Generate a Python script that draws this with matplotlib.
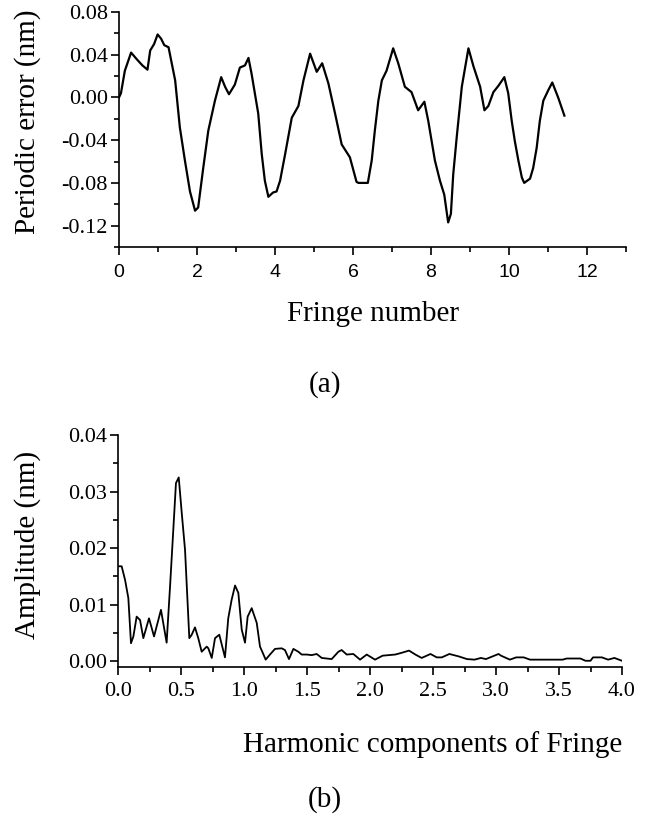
import matplotlib
matplotlib.use("Agg")
import matplotlib.pyplot as plt
from matplotlib.ticker import MultipleLocator, FormatStrFormatter

# ---- data: (a) periodic error vs fringe number ----
fringe = [0.00, 0.05, 0.15, 0.31, 0.45, 0.60, 0.73, 0.80, 0.90, 0.99, 1.08, 1.16, 1.27,
          1.44, 1.56, 1.69, 1.82, 1.95, 2.03, 2.16, 2.29, 2.46, 2.62, 2.72, 2.82, 2.97,
          3.10, 3.23, 3.32, 3.40, 3.57, 3.66, 3.74, 3.83, 3.95, 4.04, 4.13, 4.26, 4.43,
          4.60, 4.73, 4.90, 5.07, 5.21, 5.37, 5.54, 5.71, 5.92, 6.09, 6.14, 6.38, 6.48,
          6.56, 6.65, 6.74, 6.86, 7.03, 7.16, 7.33, 7.50, 7.67, 7.83, 7.93, 8.10, 8.23,
          8.34, 8.44, 8.51, 8.57, 8.66, 8.79, 8.96, 9.09, 9.26, 9.37, 9.47, 9.60, 9.73,
          9.88, 9.98, 10.07, 10.15, 10.24, 10.33, 10.39, 10.54, 10.62, 10.71, 10.79,
          10.88, 11.01, 11.11, 11.26, 11.42]
perr = [0.000, 0.004, 0.025, 0.042, 0.036, 0.030, 0.026, 0.044, 0.050, 0.059, 0.055, 0.049, 0.047,
        0.016, -0.028, -0.059, -0.088, -0.106, -0.103, -0.066, -0.031, -0.003, 0.019, 0.010, 0.003, 0.012,
        0.028, 0.030, 0.037, 0.022, -0.015, -0.053, -0.078, -0.093, -0.089, -0.088, -0.078, -0.053, -0.019,
        -0.008, 0.016, 0.041, 0.024, 0.032, 0.013, -0.015, -0.044, -0.056, -0.079, -0.080, -0.080, -0.059,
        -0.031, -0.003, 0.016, 0.025, 0.046, 0.032, 0.010, 0.005, -0.012, -0.004, -0.022, -0.059, -0.078,
        -0.091, -0.117, -0.109, -0.072, -0.037, 0.010, 0.046, 0.029, 0.010, -0.012, -0.008, 0.005, 0.011,
        0.019, 0.004, -0.022, -0.041, -0.059, -0.075, -0.080, -0.076, -0.066, -0.047, -0.022,
        -0.003, 0.007, 0.014, 0.000, -0.017]

# ---- data: (b) amplitude spectrum ----
harm = [0.000, 0.029, 0.056, 0.082, 0.103, 0.122, 0.148, 0.175, 0.201, 0.246, 0.286, 0.341, 0.386,
        0.413, 0.439, 0.460, 0.482, 0.506, 0.532, 0.566, 0.585, 0.611, 0.637, 0.664, 0.704, 0.717,
        0.744, 0.770, 0.804, 0.849, 0.875, 0.902, 0.929, 0.955, 0.982, 1.008, 1.029, 1.061, 1.101,
        1.127, 1.145, 1.172, 1.206, 1.246, 1.299, 1.325, 1.357, 1.392, 1.431, 1.458, 1.498, 1.537,
        1.577, 1.617, 1.696, 1.749, 1.775, 1.815, 1.868, 1.921, 1.974, 2.04, 2.10, 2.20, 2.25,
        2.31, 2.36, 2.41, 2.48, 2.53, 2.57, 2.63, 2.70, 2.77, 2.83, 2.88, 2.92, 3.02, 3.04, 3.11,
        3.16, 3.22, 3.27, 3.53, 3.56, 3.67, 3.71, 3.75, 3.77, 3.84, 3.89, 3.94, 4.00]
amp = [0.0168, 0.0168, 0.0144, 0.0112, 0.0032, 0.0044, 0.0079, 0.0073, 0.0041, 0.0076, 0.0044, 0.0091, 0.0033,
       0.0132, 0.0233, 0.0315, 0.0325, 0.0262, 0.0197, 0.0041, 0.0047, 0.0060, 0.0041, 0.0017, 0.0026, 0.0023,
       0.0006, 0.0041, 0.0047, 0.0007, 0.0076, 0.0109, 0.0134, 0.0121, 0.0056, 0.0033, 0.0079, 0.0094, 0.0068,
       0.0026, 0.0017, 0.0003, 0.0012, 0.0022, 0.0023, 0.0020, 0.0004, 0.0022, 0.0017, 0.0012, 0.0012, 0.0011,
       0.0013, 0.0006, 0.0004, 0.0017, 0.0020, 0.0012, 0.0013, 0.0003, 0.0012, 0.0003, 0.0010, 0.0012, 0.0015,
       0.0019, 0.0012, 0.0006, 0.0013, 0.0007, 0.0007, 0.0013, 0.0009, 0.0004, 0.0003, 0.0006, 0.0004, 0.0013, 0.0010, 0.0003,
       0.0007, 0.0007, 0.0003, 0.0003, 0.0005, 0.0005, 0.0001, 0.0001, 0.0007, 0.0007, 0.0003, 0.0006, 0.0001]

W, H = 657, 816
SERIF = "Liberation Serif"
SANS = "Liberation Sans"

fig = plt.figure(figsize=(W / 100, H / 100), dpi=100)
fig.patch.set_facecolor("white")


def px_axes(left, top, right, bottom):
    return fig.add_axes([left / W, 1 - bottom / H, (right - left) / W, (bottom - top) / H])


def style(ax):
    for s in ("top", "right"):
        ax.spines[s].set_visible(False)
    for s in ("left", "bottom"):
        ax.spines[s].set_linewidth(1.2)
    ax.tick_params(which="major", direction="out", length=6, width=1.2, pad=3)
    ax.tick_params(which="minor", direction="out", length=3.5, width=1.2)


# ---- (a) ----
ax1 = px_axes(119, 12, 626, 247)
ax1.plot(fringe, perr, color="black", lw=1.6)
ax1.set_xlim(0, 13)
ax1.set_ylim(-0.14, 0.08)
ax1.xaxis.set_major_locator(MultipleLocator(2))
ax1.xaxis.set_minor_locator(MultipleLocator(1))
ax1.yaxis.set_major_locator(MultipleLocator(0.04))
ax1.yaxis.set_minor_locator(MultipleLocator(0.02))
ax1.yaxis.set_major_formatter(FormatStrFormatter("%.2f"))
style(ax1)
ax1.tick_params(axis="x", labelsize=14, labelfontfamily=SANS, pad=6)
ax1.tick_params(axis="y", labelsize=16, labelfontfamily=SERIF, pad=2)

fig.text(28 / W, 1 - 122 / H, "Periodic error (nm)", rotation=90, ha="center", va="center",
         fontfamily=SERIF, fontsize=21)
fig.text(373 / W, 1 - 314 / H, "Fringe number", ha="center", va="center",
         fontfamily=SERIF, fontsize=21)
fig.text(325 / W, 1 - 385 / H, "(a)", ha="center", va="center",
         fontfamily=SERIF, fontsize=21)

# ---- (b) ----
ax2 = px_axes(118, 435, 622, 667)
ax2.plot(harm, amp, color="black", lw=1.3)
ax2.set_xlim(0, 4)
ax2.set_ylim(-0.001, 0.04)
ax2.xaxis.set_major_locator(MultipleLocator(0.5))
ax2.xaxis.set_minor_locator(MultipleLocator(0.25))
ax2.yaxis.set_major_locator(MultipleLocator(0.01))
ax2.yaxis.set_minor_locator(MultipleLocator(0.005))
ax2.xaxis.set_major_formatter(FormatStrFormatter("%.1f"))
ax2.yaxis.set_major_formatter(FormatStrFormatter("%.2f"))
style(ax2)
ax2.tick_params(axis="both", labelsize=16, labelfontfamily=SERIF)
ax2.tick_params(axis="x", pad=5)
ax2.tick_params(axis="y", pad=2)

fig.text(28 / W, 1 - 545 / H, "Amplitude (nm)", rotation=90, ha="center", va="center",
         fontfamily=SERIF, fontsize=21)
fig.text(622 / W, 1 - 745 / H, "Harmonic components of Fringe", ha="right", va="center",
         fontfamily=SERIF, fontsize=21)
fig.text(325 / W, 1 - 800 / H, "(b)", ha="center", va="center",
         fontfamily=SERIF, fontsize=21)

fig.savefig("out.png", dpi=100, facecolor="white")
